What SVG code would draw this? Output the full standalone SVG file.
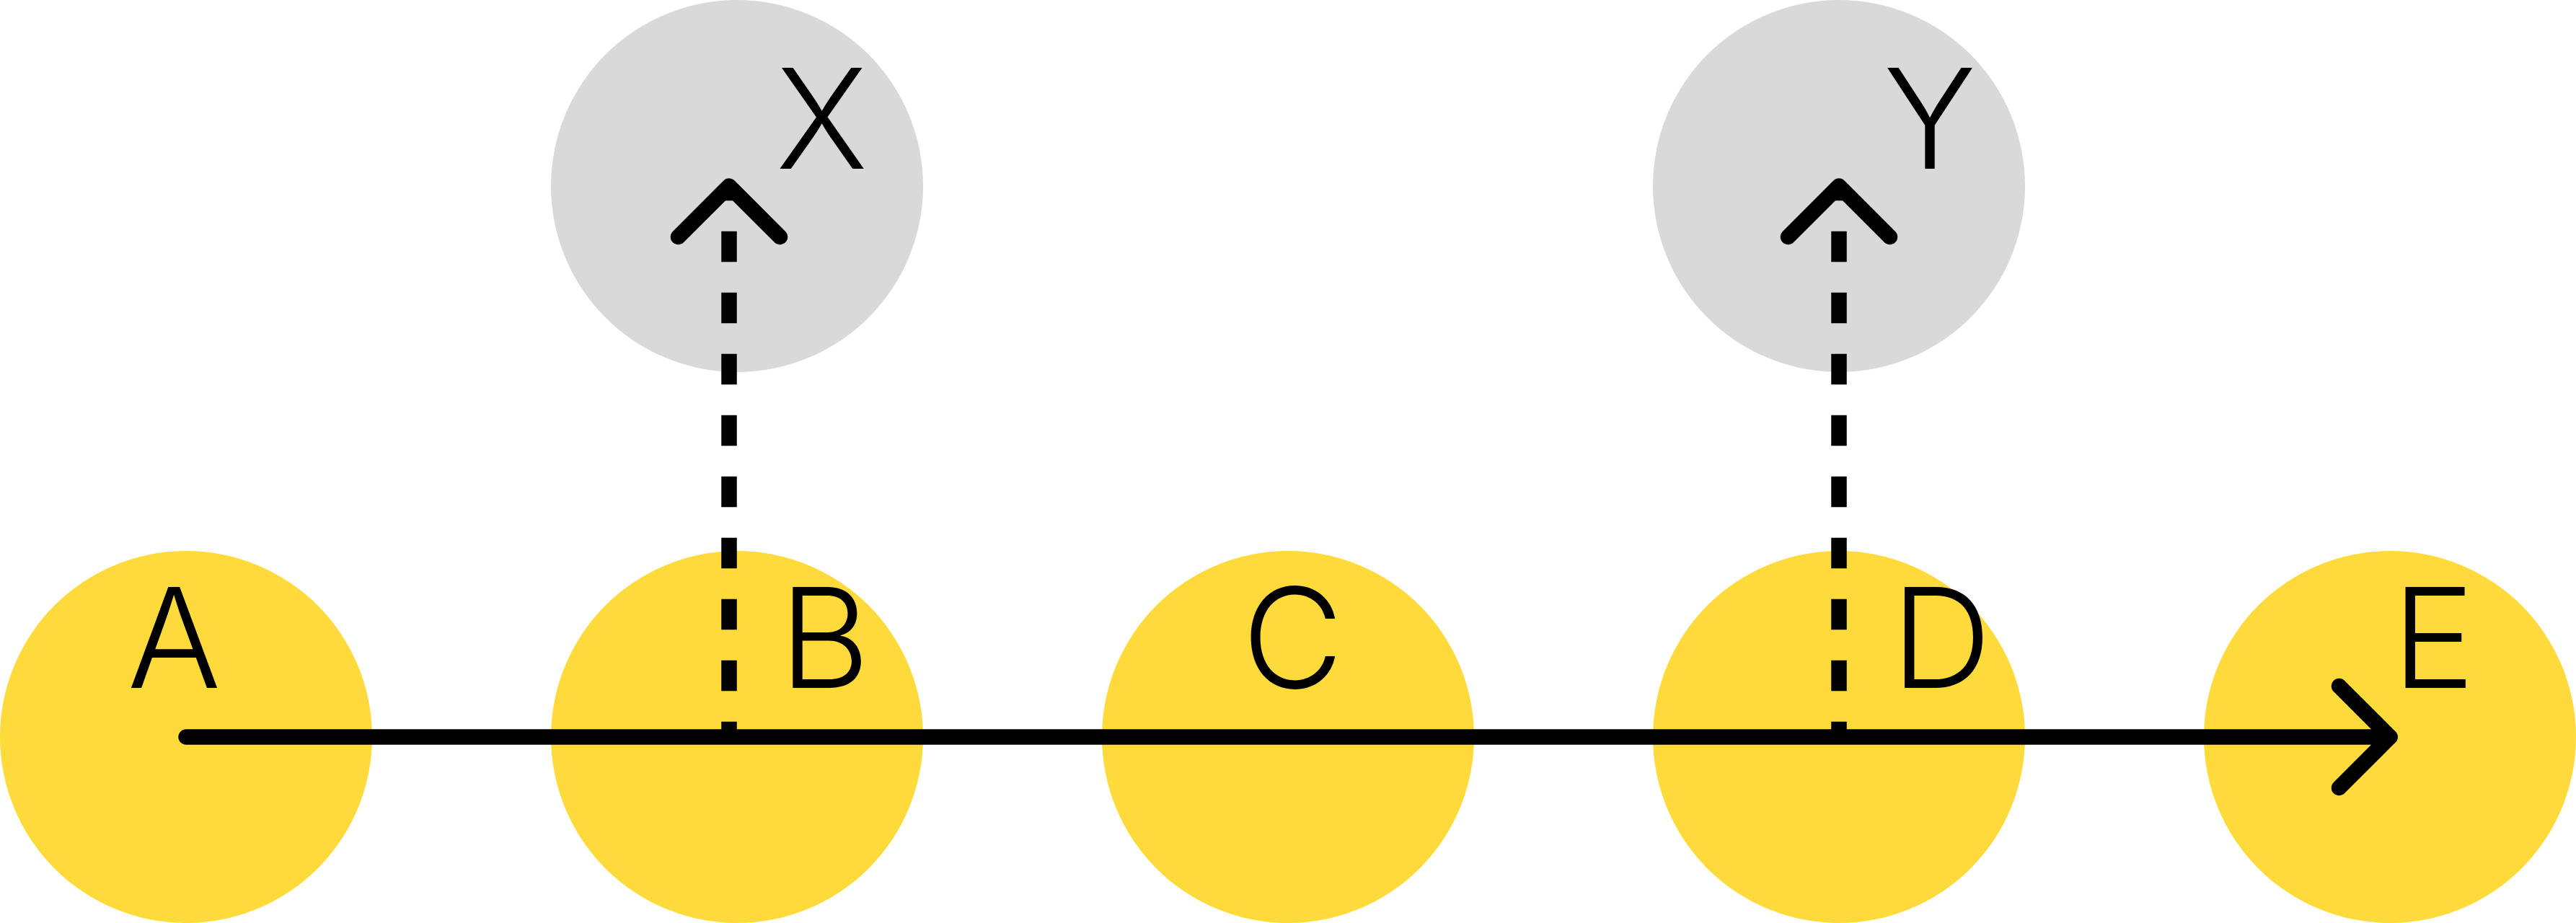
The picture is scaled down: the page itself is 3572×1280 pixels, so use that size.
<svg xmlns="http://www.w3.org/2000/svg" width="3572" height="1280" viewBox="0 0 3572 1280">
  <style>
    .main { fill: #FEDA3B; }
    .side { fill: #D9D9D9; }
    .lbl { font-family: Inter, "Liberation Sans", sans-serif; font-weight: 300; font-size: 193px; fill: #000; text-anchor: middle; }
    .edge { fill: none; stroke: #000; stroke-width: 21.5; stroke-linecap: round; }
    .dashed { fill: none; stroke: #000; stroke-width: 21.5; stroke-linecap: butt; stroke-dasharray: 42.5 42.5; stroke-dashoffset: 21.25; }
  </style>
  <defs>
    <marker id="arrow" markerUnits="userSpaceOnUse" markerWidth="1" markerHeight="1" refX="0" refY="0" orient="auto" overflow="visible">
      <path d="M-70.5,-70.5 L0,0 L-70.5,70.5" fill="none" stroke="#000" stroke-width="21.5" stroke-linecap="round" stroke-linejoin="round"/>
    </marker>
  </defs>

  <g id="node-X">
    <circle class="side" cx="1022" cy="258" r="258"/>
    <text class="lbl" x="1139.5" y="234">X</text>
  </g>
  <g id="node-Y">
    <circle class="side" cx="2550" cy="258" r="258"/>
    <text class="lbl" x="2676" y="234">Y</text>
  </g>
  <g id="node-A">
    <circle class="main" cx="258" cy="1022" r="258"/>
    <text class="lbl" x="241.5" y="954">A</text>
  </g>
  <g id="node-B">
    <circle class="main" cx="1022" cy="1022" r="258"/>
    <text class="lbl" x="1143.5" y="954">B</text>
  </g>
  <g id="node-C">
    <circle class="main" cx="1786" cy="1022" r="258"/>
    <text class="lbl" x="1792.5" y="954">C</text>
  </g>
  <g id="node-D">
    <circle class="main" cx="2550" cy="1022" r="258"/>
    <text class="lbl" x="2692" y="954">D</text>
  </g>
  <g id="node-E">
    <circle class="main" cx="3314" cy="1022" r="258"/>
    <text class="lbl" x="3374.5" y="954">E</text>
  </g>

  <g id="connectors">
    <path class="edge" d="M258,1022 L3314,1022" marker-end="url(#arrow)"/>
    <path class="dashed" d="M1011,1022 L1011,258" marker-end="url(#arrow)"/>
    <path class="dashed" d="M2550,1022 L2550,258" marker-end="url(#arrow)"/>
  </g>
</svg>
